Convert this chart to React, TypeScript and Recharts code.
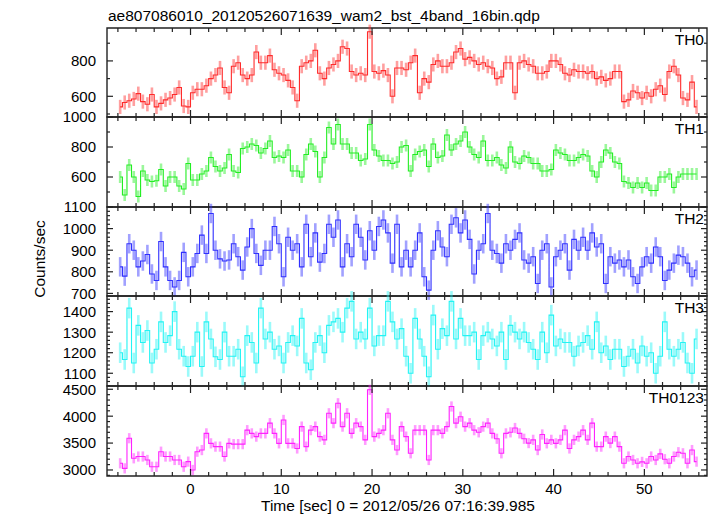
import { LineChart, Line, XAxis, YAxis, ErrorBar, ReferenceArea } from 'recharts';

const TITLE = 'ae807086010_20120526071639_wam2_bst_4band_16bin.qdp';
const X_TITLE = 'Time [sec] 0 = 2012/05/26 07:16:39.985';
const Y_TITLE = 'Counts/sec';

// light curve bins: first bin centre and bin width (sec)
const T_START = -7.75;
const BIN = 0.5;

const TH0 = [
  540, 565, 575, 585, 615, 570, 555, 610,
  540, 560, 580, 590, 610, 650, 545, 540,
  620, 640, 640, 660, 700, 720, 760, 650,
  620, 770, 790, 720, 700, 720, 850, 790,
  790, 830, 750, 730, 720, 690, 650, 575,
  770, 790, 800, 860, 730, 700, 760, 780,
  800, 880, 870, 740, 720, 730, 720, 965,
  740, 730, 745, 720, 600, 760, 760, 750,
  790, 830, 620, 700, 680, 780, 800, 770,
  770, 790, 850, 870, 810, 820, 800, 780,
  790, 770, 760, 700, 710, 790, 790, 620,
  790, 800, 780, 770, 730, 730, 740, 800,
  800, 780, 730, 720, 750, 740, 740, 730,
  740, 700, 710, 690, 700, 740, 740, 570,
  580, 630, 620, 590, 620, 600, 640, 660,
  610, 740, 770, 720, 590, 580, 680, 540,
];

const TH1 = [
  600, 480, 680, 600, 470, 640, 580, 570,
  575, 650, 540, 600, 600, 540, 520, 690,
  580, 580, 620, 640, 730, 670, 640, 660,
  750, 640, 630, 790, 800, 820, 810, 760,
  790, 840, 730, 740, 730, 780, 640, 640,
  600, 750, 820, 770, 600, 730, 930, 820,
  950, 820, 820, 760, 760, 710, 720, 950,
  780, 740, 710, 710, 690, 700, 800, 810,
  640, 750, 770, 780, 670, 820, 730, 740,
  880, 780, 820, 840, 900, 800, 750, 730,
  840, 710, 710, 730, 680, 660, 800, 700,
  690, 740, 730, 690, 690, 640, 640, 650,
  780, 760, 750, 710, 710, 730, 750, 740,
  640, 600, 700, 780, 760, 700, 690, 570,
  560, 530, 560, 530, 560, 510, 510, 600,
  600, 620, 530, 600, 620, 620, 620, 620,
];

const TH2 = [
  823, 780, 930, 900, 823, 850, 880, 790,
  760, 940, 823, 760, 730, 760, 890, 777,
  823, 885, 970, 885, 1070, 900, 860, 850,
  855, 930, 870, 808, 915, 1000, 885, 830,
  900, 900, 1010, 930, 777, 960, 900, 930,
  823, 1020, 870, 980, 845, 885, 1020, 960,
  1040, 823, 930, 870, 1020, 960, 855, 990,
  900, 1010, 1040, 980, 840, 1020, 823, 900,
  823, 900, 980, 777, 715, 900, 990, 915,
  870, 1020, 1050, 980, 1040, 950, 790, 900,
  930, 1070, 900, 885, 840, 930, 900, 950,
  980, 855, 840, 870, 746, 900, 930, 730,
  870, 900, 930, 808, 950, 900, 960, 900,
  980, 915, 930, 746, 870, 840, 855, 823,
  855, 777, 746, 823, 870, 840, 915, 870,
  760, 808, 840, 877, 870, 840, 777, 808,
];

const TH3 = [
  1200, 1167, 1417, 1150, 1333, 1250, 1308, 1150,
  1217, 1350, 1250, 1283, 1400, 1217, 1183, 1133,
  1183, 1300, 1133, 1350, 1267, 1180, 1167, 1300,
  1183, 1183, 1217, 1083, 1283, 1250, 1150, 1417,
  1267, 1300, 1217, 1233, 1150, 1250, 1283, 1233,
  1367, 1150, 1117, 1250, 1283, 1200, 1333, 1350,
  1367, 1300, 1417, 1450, 1267, 1300, 1267, 1417,
  1233, 1283, 1283, 1450, 1350, 1267, 1317, 1183,
  1100, 1367, 1267, 1183, 1083, 1383, 1217, 1317,
  1283, 1450, 1267, 1367, 1283, 1283, 1300, 1167,
  1283, 1300, 1267, 1233, 1300, 1167, 1333, 1300,
  1267, 1300, 1250, 1217, 1167, 1300, 1200, 1383,
  1233, 1267, 1250, 1250, 1183, 1233, 1250, 1283,
  1217, 1350, 1200, 1233, 1167, 1217, 1217, 1133,
  1183, 1217, 1150, 1233, 1183, 1200, 1100, 1183,
  1350, 1217, 1183, 1217, 1250, 1150, 1100, 1267,
];

const TH0123 = [
  3124, 3030, 3590, 3217, 3250, 3250, 3186, 3060,
  3060, 3340, 3250, 3250, 3186, 3186, 3060, 3155,
  3000, 3340, 3370, 3680, 3495, 3434, 3434, 3250,
  3495, 3480, 3480, 3480, 3740, 3680, 3620, 3680,
  3680, 3870, 3680, 3495, 3930, 3495, 3495, 3400,
  3806, 3434, 3740, 3806, 3620, 3560, 4054, 3870,
  4240, 3806, 4054, 3680, 3870, 3806, 3560, 4490,
  3620, 3680, 3740, 4054, 3560, 3370, 3806, 3620,
  3310, 3740, 3740, 3740, 3186, 3740, 3740, 3680,
  3806, 4180, 3870, 3990, 3806, 3870, 3740, 3700,
  3806, 3870, 3680, 3580, 3310, 3680, 3700, 3780,
  3680, 3580, 3500, 3560, 3370, 3660, 3495, 3560,
  3495, 3560, 3740, 3400, 3560, 3620, 3740, 3560,
  3870, 3434, 3434, 3620, 3500, 3620, 3434, 3124,
  3250, 3186, 3124, 3150, 3124, 3250, 3186, 3300,
  3200, 3124, 3250, 3330, 3310, 3124, 3370, 3155,
];

// 1-sigma errors (counts/sec)
const TH0_ERR = 40;
const TH1_ERR = 40;
const TH2_ERR = 45;
const TH3_ERR = 50;
const TH0123_ERR = 95;

const X_DOMAIN = [-9.2, 56.9];
const X_TICKS = [-8, -6, -4, -2, 0, 2, 4, 6, 8, 10, 12, 14, 16, 18, 20, 22, 24, 26, 28, 30, 32, 34, 36, 38, 40, 42, 44, 46, 48, 50, 52, 54, 56];
const X_LABELS = [0, 10, 20, 30, 40, 50];

const TH0_TICKS = [500, 600, 700, 800, 900];
const TH0_LABELS = [600, 800];
const TH1_TICKS = [500, 600, 700, 800, 900, 1000];
const TH1_LABELS = [600, 800, 1000];
const TH2_TICKS = [700, 720, 740, 760, 780, 800, 820, 840, 860, 880, 900, 920, 940, 960, 980, 1000, 1020, 1040, 1060, 1080, 1100];
const TH2_LABELS = [700, 800, 900, 1000, 1100];
const TH3_TICKS = [1040, 1060, 1080, 1100, 1120, 1140, 1160, 1180, 1200, 1220, 1240, 1260, 1280, 1300, 1320, 1340, 1360, 1380, 1400, 1420, 1440, 1460];
const TH3_LABELS = [1100, 1200, 1300, 1400];
const TH0123_TICKS = [2900, 3000, 3100, 3200, 3300, 3400, 3500, 3600, 3700, 3800, 3900, 4000, 4100, 4200, 4300, 4400, 4500];
const TH0123_LABELS = [3000, 3500, 4000, 4500];

const PANELS = [
  { name: 'TH0', values: TH0, err: TH0_ERR, domain: [483, 986], ticks: TH0_TICKS, labels: TH0_LABELS, color: '#ff2b2b' },
  { name: 'TH1', values: TH1, err: TH1_ERR, domain: [400, 1000], ticks: TH1_TICKS, labels: TH1_LABELS, color: '#22ee22' },
  { name: 'TH2', values: TH2, err: TH2_ERR, domain: [688, 1100], ticks: TH2_TICKS, labels: TH2_LABELS, color: '#2f2fff' },
  { name: 'TH3', values: TH3, err: TH3_ERR, domain: [1038, 1476], ticks: TH3_TICKS, labels: TH3_LABELS, color: '#22f4f4' },
  { name: 'TH0123', values: TH0123, err: TH0123_ERR, domain: [2888, 4561], ticks: TH0123_TICKS, labels: TH0123_LABELS, color: '#ff22ff' },
];

const W = 717;
const H = 516;
const LEFT = 107;
const RIGHT = 707;
const EDGES = [28, 117, 207, 296, 386, 476];
const X_AXIS_H = 20;
const FONT = '"Liberation Sans", Arial, Helvetica, sans-serif';
const INK = '#222';

function XTick({ x, payload, top, bottom, showLabel }: any) {
  const v = payload.value;
  const major = X_LABELS.includes(v);
  const len = major ? 7 : 4;
  return (
    <g>
      <line x1={x} x2={x} y1={bottom} y2={bottom - len} stroke={INK} strokeWidth={1.2} />
      <line x1={x} x2={x} y1={top} y2={top + len} stroke={INK} strokeWidth={1.2} />
      {showLabel && major && (
        <text x={x} y={bottom + 17.5} textAnchor="middle" fontSize={15} fontFamily={FONT} fill="#000">
          {v}
        </text>
      )}
    </g>
  );
}

function YTick({ y, payload, labels }: any) {
  const v = payload.value;
  const major = labels.includes(v);
  const len = major ? 6 : 3;
  return (
    <g>
      <line x1={LEFT} x2={LEFT + len} y1={y} y2={y} stroke={INK} strokeWidth={1.2} />
      <line x1={RIGHT} x2={RIGHT - len} y1={y} y2={y} stroke={INK} strokeWidth={1.2} />
      {major && (
        <text x={96} y={y} dy="0.36em" textAnchor="end" fontSize={15} fontFamily={FONT} fill="#000">
          {v}
        </text>
      )}
    </g>
  );
}

function Panel({ idx }: { idx: number }) {
  const p = PANELS[idx];
  const top = EDGES[idx];
  const bottom = EDGES[idx + 1];
  const data = p.values.map((v, i) => ({ t: T_START + i * BIN, v, e: p.err }));
  return (
    <div style={{ position: 'absolute', left: 0, top: 0 }}>
      <LineChart
        width={W}
        height={H}
        data={data}
        margin={{ top, bottom: H - bottom - X_AXIS_H, left: LEFT - 60, right: W - RIGHT }}
      >
        <XAxis
          dataKey="t"
          type="number"
          domain={X_DOMAIN}
          allowDataOverflow
          ticks={X_TICKS}
          interval={0}
          height={X_AXIS_H}
          axisLine={false}
          tickLine={false}
          tick={(tp: any) => <XTick {...tp} top={top} bottom={bottom} showLabel={idx === PANELS.length - 1} />}
        />
        <YAxis
          type="number"
          domain={p.domain}
          allowDataOverflow
          ticks={p.ticks}
          interval={0}
          width={60}
          axisLine={false}
          tickLine={false}
          tick={(tp: any) => <YTick {...tp} labels={p.labels} />}
        />
        <Line dataKey="v" type="step" stroke={p.color} strokeWidth={1.1} dot={false} isAnimationActive={false}>
          <ErrorBar dataKey="e" width={0} stroke={p.color} strokeOpacity={0.45} strokeWidth={2.6} isAnimationActive={false} />
        </Line>
        <ReferenceArea
          x1={X_DOMAIN[0]}
          x2={X_DOMAIN[1]}
          y1={p.domain[0]}
          y2={p.domain[1]}
          fill="none"
          stroke={INK}
          strokeWidth={1.4}
          ifOverflow="visible"
        />
      </LineChart>
    </div>
  );
}

export default function App() {
  return (
    <div style={{ position: 'absolute', left: 0, top: 0, width: W, height: H, background: '#fff', overflow: 'hidden' }}>
      {PANELS.map((_, i) => (
        <Panel key={i} idx={i} />
      ))}
      <svg width={W} height={H} style={{ position: 'absolute', left: 0, top: 0, pointerEvents: 'none' }}>
        <text x={108} y={21} fontSize={15.5} fontFamily={FONT} fill="#000">
          {TITLE}
        </text>
        {PANELS.map((p, i) => (
          <text key={p.name} x={704} y={EDGES[i] + 16.5} textAnchor="end" fontSize={15.5} fontFamily={FONT} fill="#000">
            {p.name}
          </text>
        ))}
        <text x={261} y={511} fontSize={15.5} fontFamily={FONT} fill="#000">
          {X_TITLE}
        </text>
        <text
          x={45}
          y={259}
          transform="rotate(-90 45 259)"
          textAnchor="middle"
          fontSize={15.5}
          fontFamily={FONT}
          fill="#000"
        >
          {Y_TITLE}
        </text>
      </svg>
    </div>
  );
}
